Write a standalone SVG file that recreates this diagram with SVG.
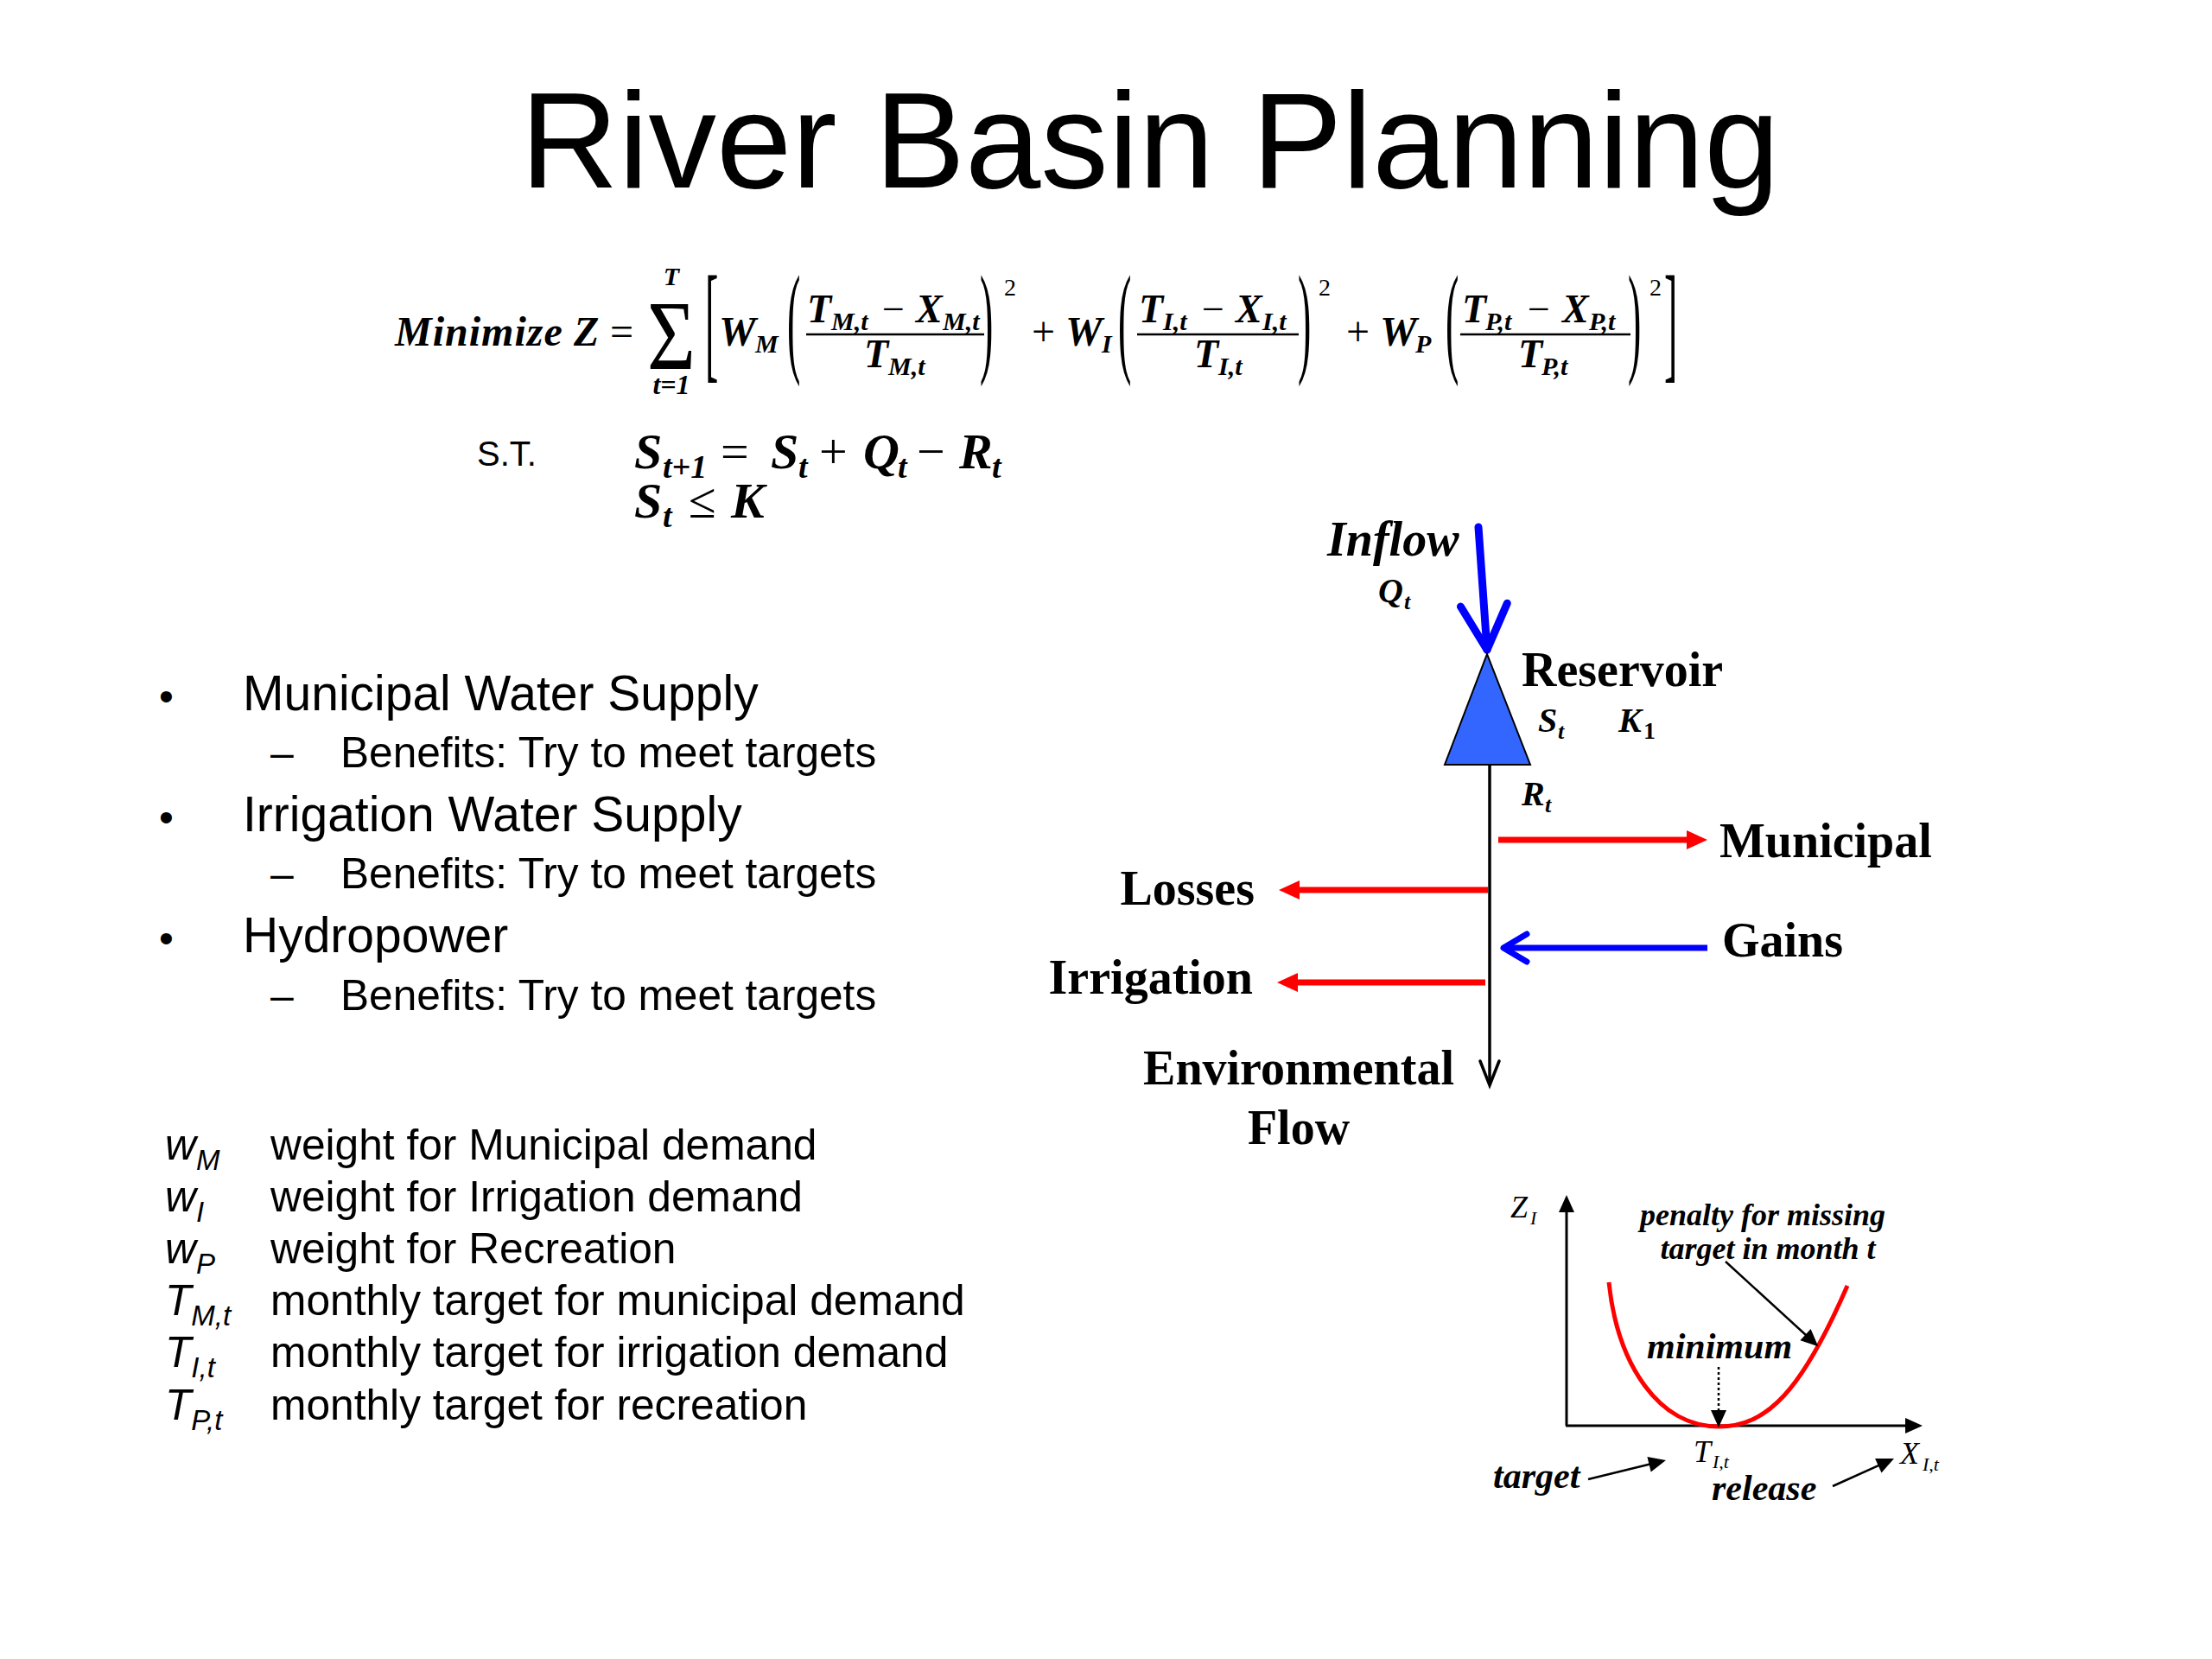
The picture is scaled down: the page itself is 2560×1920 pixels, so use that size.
<svg xmlns="http://www.w3.org/2000/svg" width="2560" height="1920" viewBox="0 0 2560 1920">
<style>
.sans{font-family:"Liberation Sans",Arial,sans-serif;fill:#000}
.mb{font-family:"Liberation Serif","Times New Roman",serif;font-weight:bold;font-style:italic;fill:#000}
.mr{font-family:"Liberation Serif","Times New Roman",serif;fill:#000}
.mi{font-family:"Liberation Serif","Times New Roman",serif;font-style:italic;fill:#000}
.lbl{font-family:"Liberation Serif","Times New Roman",serif;font-weight:bold;font-size:56px;fill:#000}
.bar{stroke:#000;stroke-width:2.5}
.red{stroke:#ff0000;stroke-width:7;fill:none}
.blue{stroke:#0000ff;fill:none}
.blk{stroke:#000;fill:none}
</style>
<defs>
<marker id="triRed" markerUnits="userSpaceOnUse" markerWidth="26" markerHeight="24" refX="2" refY="11" orient="auto" overflow="visible"><path d="M0,0 L24,11 L0,22 z" fill="#ff0000"/></marker>
<marker id="triBlk" markerUnits="userSpaceOnUse" markerWidth="22" markerHeight="20" refX="2" refY="9" orient="auto" overflow="visible"><path d="M0,0 L20,9 L0,18 z" fill="#000"/></marker>
<marker id="vBlue" markerUnits="userSpaceOnUse" markerWidth="40" markerHeight="40" refX="30" refY="20" orient="auto" overflow="visible"><path d="M3,4 L30,20 L3,36" fill="none" stroke="#0000ff" stroke-width="7" stroke-linecap="round" stroke-linejoin="round"/></marker>
<marker id="vInflow" markerUnits="userSpaceOnUse" markerWidth="62" markerHeight="62" refX="56" refY="31" orient="auto" overflow="visible"><path d="M4,4 L56,31 L4,58" fill="none" stroke="#0000ff" stroke-width="9" stroke-linecap="round" stroke-linejoin="round"/></marker>
<marker id="vBlk" markerUnits="userSpaceOnUse" markerWidth="34" markerHeight="28" refX="30" refY="13" orient="auto" overflow="visible"><path d="M2,2 L30,13 L2,24" fill="none" stroke="#000" stroke-width="3.5" stroke-linecap="round"/></marker>
</defs>
<rect width="2560" height="1920" fill="#fff"/>

<g id="title"><text class="sans" x="1331" y="217" font-size="157" text-anchor="middle">River Basin Planning</text></g>

<g id="objective">
<text class="mb" x="457" y="400" font-size="48" letter-spacing="1">Minimize</text>
<text class="mb" x="664" y="400" font-size="48">Z</text>
<text class="mr" x="706" y="400" font-size="48">=</text>
<text class="mr" font-size="96" transform="translate(749,427) scale(1,1.2)">Σ</text>
<text class="mb" x="777" y="330" font-size="30" text-anchor="middle">T</text>
<text class="mb" x="777" y="456" font-size="32" text-anchor="middle">t=1</text>
<text class="mr" font-size="46" transform="translate(816,423) scale(1,3.27)">[</text>
<text class="mb" x="832" y="400" font-size="48">W</text><text class="mb" x="874" y="408" font-size="30">M</text>
<text class="mr" font-size="46" transform="translate(911,417) scale(1,3.07)">(</text>
<text class="mb" x="934" y="373" font-size="46">T</text><text class="mb" x="962" y="382" font-size="30">M,t</text>
<text class="mr" x="1021" y="373" font-size="46">−</text>
<text class="mb" x="1060" y="373" font-size="46">X</text><text class="mb" x="1091" y="382" font-size="30">M,t</text>
<line class="bar" x1="933" y1="387" x2="1139" y2="387"/>
<text class="mb" x="1000" y="425" font-size="46">T</text><text class="mb" x="1028" y="434" font-size="30">M,t</text>
<text class="mr" font-size="46" transform="translate(1134,417) scale(1,3.07)">)</text>
<text class="mr" x="1162" y="342" font-size="28">2</text>
<text class="mr" x="1194" y="400" font-size="48">+</text>
<text class="mb" x="1233" y="400" font-size="48">W</text><text class="mb" x="1275" y="408" font-size="30">I</text>
<text class="mr" font-size="46" transform="translate(1294,417) scale(1,3.07)">(</text>
<text class="mb" x="1318" y="373" font-size="46">T</text><text class="mb" x="1346" y="382" font-size="30">I,t</text>
<text class="mr" x="1391" y="373" font-size="46">−</text>
<text class="mb" x="1430" y="373" font-size="46">X</text><text class="mb" x="1461" y="382" font-size="30">I,t</text>
<line class="bar" x1="1316" y1="387" x2="1503" y2="387"/>
<text class="mb" x="1382" y="425" font-size="46">T</text><text class="mb" x="1410" y="434" font-size="30">I,t</text>
<text class="mr" font-size="46" transform="translate(1502,417) scale(1,3.07)">)</text>
<text class="mr" x="1526" y="342" font-size="28">2</text>
<text class="mr" x="1558" y="400" font-size="48">+</text>
<text class="mb" x="1597" y="400" font-size="48">W</text><text class="mb" x="1638" y="408" font-size="30">P</text>
<text class="mr" font-size="46" transform="translate(1673,417) scale(1,3.07)">(</text>
<text class="mb" x="1692" y="373" font-size="46">T</text><text class="mb" x="1719" y="382" font-size="30">P,t</text>
<text class="mr" x="1768" y="373" font-size="46">−</text>
<text class="mb" x="1808" y="373" font-size="46">X</text><text class="mb" x="1839" y="382" font-size="30">P,t</text>
<line class="bar" x1="1690" y1="387" x2="1887" y2="387"/>
<text class="mb" x="1757" y="425" font-size="46">T</text><text class="mb" x="1784" y="434" font-size="30">P,t</text>
<text class="mr" font-size="46" transform="translate(1884,417) scale(1,3.07)">)</text>
<text class="mr" x="1909" y="342" font-size="28">2</text>
<text class="mr" font-size="46" transform="translate(1926,423) scale(1,3.27)">]</text>
</g>

<g id="constraints">
<text class="sans" x="552" y="539" font-size="40">S.T.</text>
<text class="mb" x="734" y="542" font-size="58">S</text><text class="mb" x="767" y="553" font-size="38">t+1</text>
<text class="mr" x="834" y="542" font-size="58">=</text>
<text class="mb" x="892" y="542" font-size="58">S</text><text class="mb" x="924" y="553" font-size="38">t</text>
<text class="mr" x="948" y="542" font-size="58">+</text>
<text class="mb" x="999" y="542" font-size="58">Q</text><text class="mb" x="1039" y="553" font-size="38">t</text>
<text class="mr" x="1061" y="542" font-size="58">−</text>
<text class="mb" x="1110" y="542" font-size="58">R</text><text class="mb" x="1148" y="553" font-size="38">t</text>
<text class="mb" x="734" y="599" font-size="58">S</text><text class="mb" x="767" y="610" font-size="38">t</text>
<text class="mr" x="797" y="599" font-size="58">≤</text>
<text class="mb" x="846" y="599" font-size="58">K</text>
</g>

<g id="bullets" class="sans">
<text x="184" y="822" font-size="48">•</text><text x="281" y="822" font-size="57">Municipal Water Supply</text>
<text x="313" y="888" font-size="48">–</text><text x="394" y="888" font-size="49.6">Benefits: Try to meet targets</text>
<text x="184" y="962" font-size="48">•</text><text x="281" y="962" font-size="57">Irrigation Water Supply</text>
<text x="313" y="1028" font-size="48">–</text><text x="394" y="1028" font-size="49.6">Benefits: Try to meet targets</text>
<text x="184" y="1102" font-size="48">•</text><text x="281" y="1102" font-size="57">Hydropower</text>
<text x="313" y="1169" font-size="48">–</text><text x="394" y="1169" font-size="49.6">Benefits: Try to meet targets</text>
</g>

<g id="definitions" class="sans" font-size="49.7">
<text x="191" y="1342" font-style="italic">w<tspan font-size="33" dy="12">M</tspan></text><text x="313" y="1342">weight for Municipal demand</text>
<text x="191" y="1402" font-style="italic">w<tspan font-size="33" dy="12">I</tspan></text><text x="313" y="1402">weight for Irrigation demand</text>
<text x="191" y="1462" font-style="italic">w<tspan font-size="33" dy="12">P</tspan></text><text x="313" y="1462">weight for Recreation</text>
<text x="191" y="1522" font-style="italic">T<tspan font-size="33" dy="12">M,t</tspan></text><text x="313" y="1522">monthly target for municipal demand</text>
<text x="191" y="1582" font-style="italic">T<tspan font-size="33" dy="12">I,t</tspan></text><text x="313" y="1582">monthly target for irrigation demand</text>
<text x="191" y="1643" font-style="italic">T<tspan font-size="33" dy="12">P,t</tspan></text><text x="313" y="1643">monthly target for recreation</text>
</g>

<g id="connectors">
<line x1="1711" y1="610" x2="1721" y2="752" class="blue" stroke-width="9" stroke-linecap="round" marker-end="url(#vInflow)"/>
<line x1="1724" y1="885" x2="1724" y2="1256" class="blk" stroke-width="3.5" marker-end="url(#vBlk)"/>
<line x1="1734" y1="972" x2="1954" y2="972" class="red" marker-end="url(#triRed)"/>
<line x1="1722" y1="1030" x2="1502" y2="1030" class="red" marker-end="url(#triRed)"/>
<line x1="1976" y1="1097" x2="1740" y2="1097" class="blue" stroke-width="7" marker-end="url(#vBlue)"/>
<line x1="1719" y1="1137" x2="1500" y2="1137" class="red" marker-end="url(#triRed)"/>
</g>

<g id="inflow">
<text class="mb" x="1536" y="643" font-size="56">Inflow</text>
<text class="mb" x="1595" y="697" font-size="40">Q</text><text class="mb" x="1625" y="705" font-size="26">t</text>
</g>
<g id="reservoir">
<polygon points="1721,757 1672,885 1771,885" fill="#3366ff" stroke="#000" stroke-width="2"/>
<text class="lbl" x="1761" y="794">Reservoir</text>
<text class="mb" x="1780" y="847" font-size="40">S</text><text class="mb" x="1803" y="855" font-size="26">t</text>
<text class="mb" x="1873" y="847" font-size="40">K</text><text class="mr" x="1902" y="855" font-size="28" font-weight="bold">1</text>
<text class="mb" x="1761" y="932" font-size="40">R</text><text class="mb" x="1788" y="940" font-size="26">t</text>
</g>
<g id="municipal"><text class="lbl" x="1990" y="992">Municipal</text></g>
<g id="losses"><text class="lbl" x="1452" y="1047" text-anchor="end">Losses</text></g>
<g id="gains"><text class="lbl" x="1993" y="1107">Gains</text></g>
<g id="irrigation"><text class="lbl" x="1450" y="1150" text-anchor="end">Irrigation</text></g>
<g id="environmental"><text class="lbl" x="1503" y="1255" text-anchor="middle">Environmental</text><text class="lbl" x="1503" y="1324" text-anchor="middle">Flow</text></g>

<g id="penalty-graph">
<line x1="1813" y1="1650" x2="1813" y2="1401" class="blk" stroke-width="3" marker-end="url(#triBlk)"/>
<line x1="1812" y1="1650" x2="2207" y2="1650" class="blk" stroke-width="3" marker-end="url(#triBlk)"/>
<path d="M1862,1484 C1872,1580 1920,1651 1989,1651 C2045,1651 2085,1610 2138,1488" fill="none" stroke="#ff0000" stroke-width="5"/>
<line x1="1997" y1="1460" x2="2091" y2="1546" class="blk" stroke-width="2.5" marker-end="url(#triBlk)"/>
<line x1="1989" y1="1582" x2="1989" y2="1634" class="blk" stroke-width="2.5" stroke-dasharray="3 3" marker-end="url(#triBlk)"/>
<line x1="1838" y1="1712" x2="1910.5" y2="1694.3" class="blk" stroke-width="2.5" marker-end="url(#triBlk)"/>
<line x1="2121" y1="1720" x2="2175.6" y2="1695.4" class="blk" stroke-width="2.5" marker-end="url(#triBlk)"/>
<text class="mi" x="1748" y="1409" font-size="36">Z</text><text class="mi" x="1771" y="1417" font-size="22">I</text>
<text class="mb" x="2040" y="1418" font-size="36" text-anchor="middle">penalty for missing</text>
<text class="mb" x="2046" y="1457" font-size="36" text-anchor="middle">target in month t</text>
<text class="mb" x="1906" y="1572" font-size="42">minimum</text>
<text class="mi" x="1960" y="1692" font-size="36">T</text><text class="mi" x="1982" y="1699" font-size="22">I,t</text>
<text class="mi" x="2199" y="1694" font-size="36">X</text><text class="mi" x="2225" y="1702" font-size="22">I,t</text>
<text class="mb" x="1728" y="1722" font-size="42">target</text>
<text class="mb" x="1981" y="1736" font-size="42">release</text>
</g>
</svg>
